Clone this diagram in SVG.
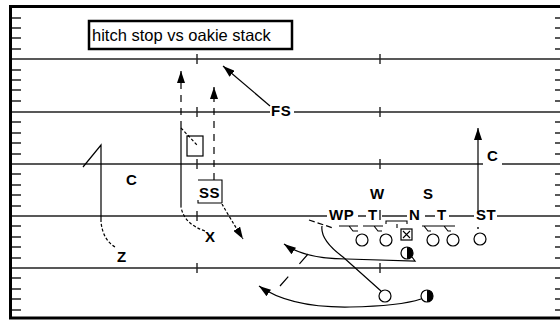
<svg xmlns="http://www.w3.org/2000/svg" width="560" height="320" viewBox="0 0 560 320">
<style>
.field{stroke:#222;stroke-width:1.4;fill:none}
.tick{stroke:#222;stroke-width:1.6;fill:none}
.border{stroke:#000;stroke-width:3;fill:none}
.lbl{font-family:"Liberation Sans",Arial,sans-serif;font-weight:bold;font-size:15px;letter-spacing:0.5px;fill:#000}
.title{font-family:"Liberation Sans",Arial,sans-serif;font-size:16.5px;fill:#000}
.route{stroke:#000;stroke-width:1.2;fill:none}
.dash{stroke-dasharray:7 6}
.fine{stroke-dasharray:3 2}
.pl{fill:#fff;stroke:#000;stroke-width:1.2}
.blk{stroke:#000;stroke-width:1.1;fill:none}
</style>
<defs>
<marker id="ah" viewBox="0 0 12 8" refX="12" refY="4" markerWidth="12" markerHeight="8" markerUnits="userSpaceOnUse" orient="auto"><path d="M0,0 L12,4 L0,8 z" fill="#000"/></marker>
</defs>
<rect x="0" y="0" width="560" height="320" fill="#fff"/>
<g id="field">
<path class="field" d="M11,59 H560 M11,112 H270 M294,112 H560 M11,164 H483 M502,164 H560 M11,216 H327 M358,216 H366 M382,216 H407 M425,216 H435 M449,216 H474 M497,216 H560 M11,268 H560"/>
<path class="tick" d="M12,18h9M12,28h9M12,38h9M12,49h9M12,70h9M12,80h9M12,90h9M12,101h9M12,122h9M12,133h9M12,143h9M12,154h9M12,174h9M12,185h9M12,195h9M12,206h9M12,226h9M12,237h9M12,247h9M12,258h9M12,278h9M12,289h9M12,299h9M12,310h9"/>
<path class="tick" d="M555,18h6M555,28h6M555,38h6M555,49h6M555,70h6M555,80h6M555,90h6M555,101h6M555,122h6M555,133h6M555,143h6M555,154h6M555,174h6M555,185h6M555,195h6M555,206h6M555,226h6M555,237h6M555,247h6M555,258h6M555,278h6M555,289h6M555,299h6M555,310h6"/>
<path class="field" d="M197,54v10M197,107v10M197,159v10M197,211v10M197,263v10M380,54v10M380,107v10M380,159v10M380,210v10M380,263v10"/>
<rect class="border" x="10.5" y="6.5" width="560" height="311.5"/>
</g>
<g id="title">
<rect x="89" y="21" width="203" height="28" fill="#fff" stroke="#000" stroke-width="2.5"/>
<text class="title" x="92" y="41">hitch stop vs oakie stack</text>
</g>
<g id="connectors">
<path class="route" d="M270,106 L223,66" marker-end="url(#ah)"/>
<path class="route fine" d="M205,231 Q184,224 181,207"/>
<path class="route" d="M181,207 V128"/>
<path class="route dash" d="M181,128 V71" marker-end="url(#ah)"/>
<path class="route fine" d="M181,128 L198,146"/>
<path class="route dash" d="M214,180 V87" marker-end="url(#ah)"/>
<path class="route fine" d="M222,204 Q230,218 243,239" marker-end="url(#ah)"/>
<path class="route fine" d="M115,247 Q103,240 101,222"/>
<path class="route" d="M101,222 V145 L83,167"/>
<path class="route" d="M478,212 V128" marker-end="url(#ah)"/>
<path class="route" d="M412,257 L415,261 L347,259 Q305,259 284,244" marker-end="url(#ah)"/>
<path class="route" stroke-dasharray="13 17" d="M308,254 L280,286"/>
<path class="route" d="M381,291 L343,257 Q320,240 322,226"/>
<path class="route" stroke-dasharray="6 3" d="M309,220 L333,228"/>
<path class="route" d="M421,299 Q400,306 350,307 Q290,308 259,286" marker-end="url(#ah)"/>
</g>
<g id="FS"><text class="lbl" x="271" y="116">FS</text></g>
<g id="C-left"><text class="lbl" x="126" y="185">C</text></g>
<g id="C-right"><text class="lbl" x="487" y="161">C</text></g>
<g id="Z"><text class="lbl" x="117" y="262">Z</text></g>
<g id="X"><text class="lbl" x="205" y="242">X</text></g>
<g id="SS-old"><rect x="187" y="136" width="16" height="20" fill="none" stroke="#000" stroke-width="1.2"/></g>
<g id="SS">
<path class="blk" d="M198,180 H222 V203 M198,200 V203 H222"/>
<text class="lbl" x="199" y="198">SS</text>
</g>
<g id="W"><text class="lbl" x="370" y="199">W</text></g>
<g id="S"><text class="lbl" x="423" y="199">S</text></g>
<g id="WP"><text class="lbl" x="329" y="220">WP</text></g>
<g id="T-left"><text class="lbl" x="368" y="220">T</text></g>
<g id="N"><text class="lbl" x="409" y="220">N</text></g>
<g id="T-right"><text class="lbl" x="437" y="220">T</text></g>
<g id="ST"><text class="lbl" x="476" y="220">ST</text></g>
<g id="LT"><path class="blk" d="M339,226 H358 M349,226 L353,231 H358"/><circle class="pl" cx="362" cy="240" r="6"/></g>
<g id="LG"><path class="blk" d="M363,226 H383 M374,226 L378,231 H382"/><circle class="pl" cx="386" cy="240" r="6"/></g>
<g id="Center"><path class="blk" d="M386,224 V221 H407 V224 M397,224 V228"/><rect class="pl" x="401" y="229" width="11" height="11"/><path class="blk" d="M403,231 L410,238 M410,231 L403,238"/></g>
<g id="RG"><path class="blk" d="M422,226 H442 M424,226 L428,231 H431"/><circle class="pl" cx="433" cy="240" r="6"/></g>
<g id="RT"><path class="blk" d="M442,226 H455 M444,226 L448,231 H451"/><circle class="pl" cx="453" cy="240" r="6"/></g>
<g id="TE"><circle cx="478" cy="228" r="0.9" fill="#000"/><circle class="pl" cx="480" cy="239" r="6"/></g>
<g id="QB"><circle class="pl" cx="407" cy="253" r="6"/><path d="M407,247 A6,6 0 0 1 407,259 Z" fill="#000"/></g>
<g id="RB"><circle class="pl" cx="385" cy="296" r="6"/></g>
<g id="FB"><circle class="pl" cx="427" cy="296" r="6"/><path d="M427,290 A6,6 0 0 1 427,302 Z" fill="#000"/></g>
</svg>
